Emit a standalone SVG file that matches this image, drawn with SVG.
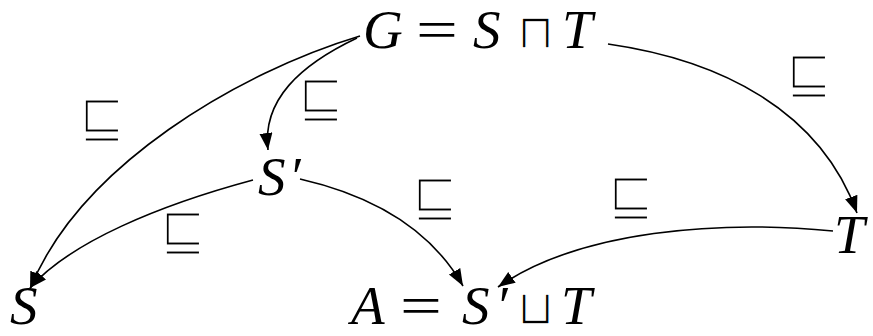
<svg xmlns="http://www.w3.org/2000/svg" width="873" height="336" viewBox="0 0 873 336">
<style>
.m{font-family:"Liberation Serif","DejaVu Serif",serif;font-size:55px;font-style:italic;fill:#000}
.r{font-family:"Liberation Serif","DejaVu Serif",serif;font-size:55px;fill:#000}
.o{font-family:"DejaVu Sans",sans-serif;font-size:48px;fill:#000;stroke:#fff;stroke-width:1.5}
.l{font-family:"DejaVu Sans",sans-serif;font-size:60px;fill:#000;text-anchor:middle;stroke:#fff;stroke-width:3}
.c{fill:none;stroke:#000;stroke-width:1.6}
</style>
<defs>
<marker id="ah" markerUnits="userSpaceOnUse" markerWidth="18" markerHeight="14" refX="17" refY="6.5" orient="auto">
<path d="M0,0 L17,6.5 L0,13 z" fill="#000"/>
</marker>
</defs>
<rect width="873" height="336" fill="#fff"/>
<g id="connectors">
<path class="c" marker-end="url(#ah)" d="M360,36 C 240,72 80,165 30,289"/>
<path class="c" marker-end="url(#ah)" d="M357,38 C 300,65 262,100 268,150"/>
<path class="c" marker-end="url(#ah)" d="M608,44 C 720,60 820,110 857,213"/>
<path class="c" marker-end="url(#ah)" d="M253,180 C 160,205 70,242 30,288"/>
<path class="c" marker-end="url(#ah)" d="M300,179 C 370,195 430,228 463,286"/>
<path class="c" marker-end="url(#ah)" d="M833,231 C 720,220 580,230 498,287"/>
</g>
<g id="labels">
<text class="l" transform="translate(102,137) scale(0.93,1)">⊑</text>
<text class="l" transform="translate(321,117) scale(0.93,1)">⊑</text>
<text class="l" transform="translate(183,250) scale(0.93,1)">⊑</text>
<text class="l" transform="translate(809,93) scale(0.93,1)">⊑</text>
<text class="l" transform="translate(435,216) scale(0.93,1)">⊑</text>
<text class="l" transform="translate(631,215) scale(0.93,1)">⊑</text>
</g>
<g id="node-G">
<text class="m" x="363" y="48">G</text>
<text class="r" transform="translate(416,48) scale(1.35,1)">=</text>
<text class="m" x="473" y="48">S</text>
<text class="o" x="517" y="48">⊓</text>
<text class="m" x="562" y="48">T</text>
</g>
<g id="node-Sp">
<text class="m" x="258" y="195">S<tspan dx="3">′</tspan></text>
</g>
<g id="node-S">
<text class="m" x="10" y="324">S</text>
</g>
<g id="node-T">
<text class="m" x="834" y="253">T</text>
</g>
<g id="node-A">
<text class="m" x="351" y="324">A</text>
<text class="r" transform="translate(400,324) scale(1.35,1)">=</text>
<text class="m" x="462" y="324">S<tspan dx="6">′</tspan></text>
<text class="o" x="517" y="324">⊔</text>
<text class="m" x="561" y="324">T</text>
</g>
</svg>
